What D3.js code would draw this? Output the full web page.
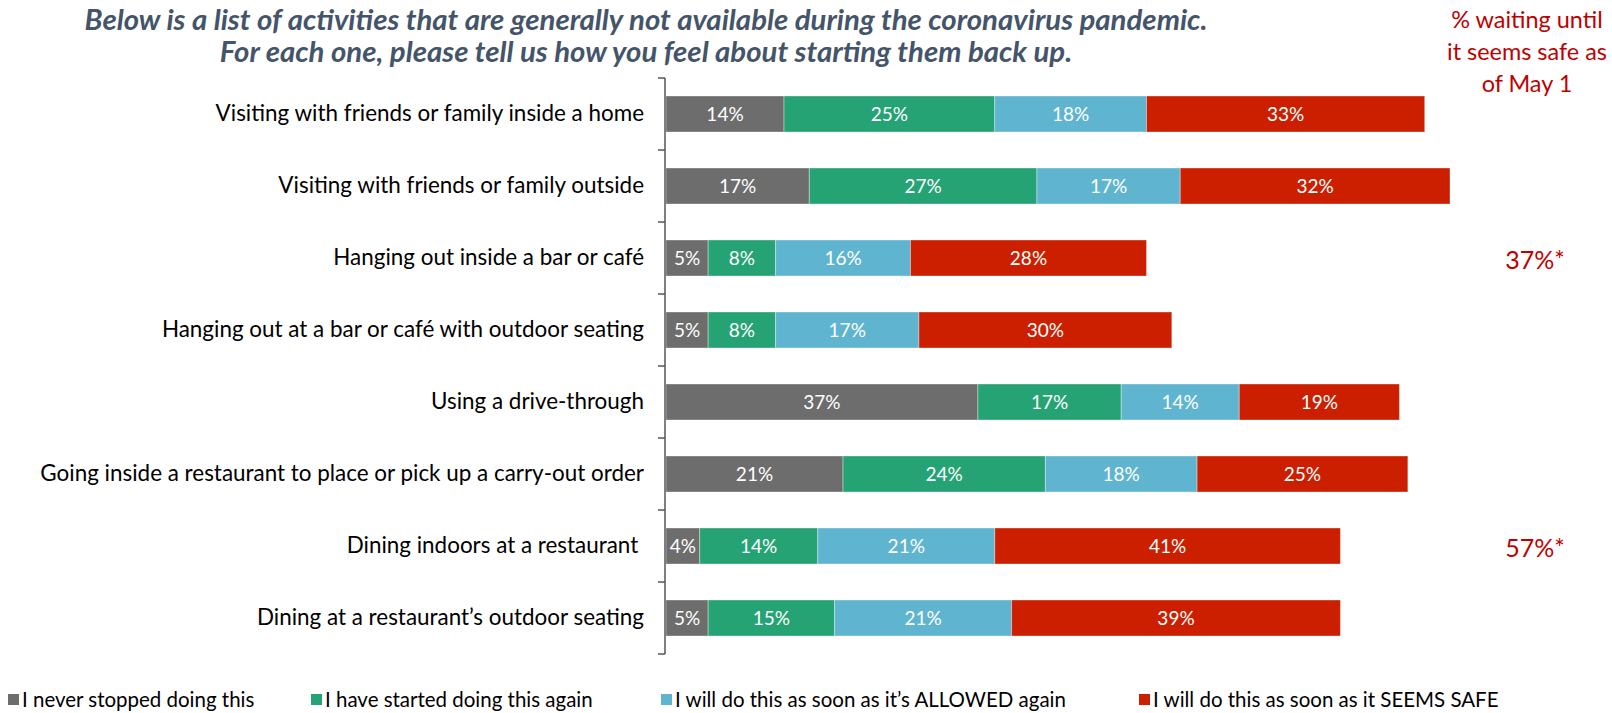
<!DOCTYPE html>
<html>
<head>
<meta charset="utf-8">
<script src="https://cdn.jsdelivr.net/npm/d3@7"></script>
<style>
  body { margin: 0; background: #fff; }
  svg { display: block; }
</style>
</head>
<body>
<svg id="chart" width="1612" height="713"></svg>
<script>
// Activities, top to bottom
const categories = [
  "Visiting with friends or family inside a home",
  "Visiting with friends or family outside",
  "Hanging out inside a bar or café",
  "Hanging out at a bar or café with outdoor seating",
  "Using a drive-through",
  "Going inside a restaurant to place or pick up a carry-out order",
  "Dining indoors at a restaurant\u00a0",
  "Dining at a restaurant’s outdoor seating"
];

// Response series (legend order)
const seriesNames = [
  "I never stopped doing this",
  "I have started doing this again",
  "I will do this as soon as it’s ALLOWED again",
  "I will do this as soon as it SEEMS SAFE"
];

// Percent of respondents per activity
const neverStopped = [14, 17, 5, 5, 37, 21, 4, 5];
const startedAgain = [25, 27, 8, 8, 17, 24, 14, 15];
const whenAllowed  = [18, 17, 16, 17, 14, 18, 21, 21];
const whenSafe     = [33, 32, 28, 30, 19, 25, 41, 39];

// "% waiting until it seems safe as of May 1" (only asked for some activities)
const safeAsOfMay1 = [null, null, 37, null, null, null, 57, null];

const titleLines = [
  "Below is a list of activities that are generally not available during the coronavirus pandemic.",
  "For each one, please tell us how you feel about starting them back up."
];
const sideNote = ["% waiting until", "it seems safe as", "of May 1"];

const colors = ["#6d6d6d", "#26a375", "#5fb5d0", "#cc1f00"];

const svg = d3.select("#chart");
const FONT = "Lato, 'Open Sans', sans-serif";

// Build rows for stacking
const keys = ["never", "started", "allowed", "safe"];
const rows = categories.map((c, i) => ({
  cat: c,
  never: neverStopped[i],
  started: startedAgain[i],
  allowed: whenAllowed[i],
  safe: whenSafe[i]
}));
const stacked = d3.stack().keys(keys)(rows);

const x = d3.scaleLinear().domain([0, 100]).range([666, 1509]);
const y = d3.scaleBand().domain(categories).range([78, 654])
  .paddingInner(0.5).paddingOuter(0.25);

// Fit a font size so that the widest text in a selection spans a given width
function fitFont(sel, target, start) {
  sel.style("font-size", start + "px");
  let w = 0;
  sel.each(function () { w = Math.max(w, this.getComputedTextLength()); });
  const size = start * target / w;
  sel.style("font-size", size + "px");
  return size;
}

// Title
const title = svg.append("g").selectAll("text").data(titleLines).join("text")
  .attr("x", 646)
  .attr("y", (d, i) => 30 + i * 32)
  .attr("text-anchor", "middle")
  .style("font-family", FONT)
  .style("font-weight", 700)
  .style("font-style", "italic")
  .attr("fill", "#44546a")
  .text(d => d);
fitFont(title, 1123, 24);

// Side note header
const note = svg.append("g").selectAll("text").data(sideNote).join("text")
  .attr("x", 1527)
  .attr("y", (d, i) => 28 + i * 32)
  .attr("text-anchor", "middle")
  .style("font-family", FONT)
  .attr("fill", "#c00000")
  .text(d => d);
fitFont(note, 160, 20);

// Stacked bars
const layer = svg.append("g").selectAll("g").data(stacked).join("g")
  .attr("fill", (d, i) => colors[i]);

layer.selectAll("rect").data(d => d).join("rect")
  .attr("x", d => x(d[0]))
  .attr("y", d => y(d.data.cat))
  .attr("width", d => x(d[1]) - x(d[0]))
  .attr("height", y.bandwidth())
  .attr("stroke", "#ffffff")
  .attr("stroke-opacity", 0.35)
  .attr("stroke-width", 1);

// Value labels
layer.selectAll("text").data(d => d).join("text")
  .attr("x", d => (x(d[0]) + x(d[1])) / 2)
  .attr("y", d => y(d.data.cat) + y.bandwidth() / 2 + 7)
  .attr("text-anchor", "middle")
  .attr("fill", "#ffffff")
  .style("font-family", FONT)
  .style("font-size", "19px")
  .text(d => (d[1] - d[0]) + "%");

// Category axis
const axis = svg.append("g")
  .attr("transform", "translate(665,0)")
  .call(d3.axisLeft(y).tickSize(0).tickPadding(21));
axis.select(".domain").remove();
const catLabels = axis.selectAll(".tick text")
  .attr("dy", null)
  .attr("y", 7)
  .attr("fill", "#000")
  .style("font-family", FONT);
fitFont(catLabels, 604, 20);

// Axis line and band boundary ticks
const boundaries = categories.map(c => y(c) - y.step() * y.paddingInner() / 2);
boundaries.push(654);
svg.append("line")
  .attr("x1", 665).attr("x2", 665)
  .attr("y1", 78).attr("y2", 654)
  .attr("stroke", "#555").attr("stroke-width", 1.5);
svg.append("g").selectAll("line").data(boundaries).join("line")
  .attr("x1", 658).attr("x2", 665)
  .attr("y1", d => d).attr("y2", d => d)
  .attr("stroke", "#555").attr("stroke-width", 1.5);

// Safe-as-of-May-1 figures
svg.append("g").selectAll("text")
  .data(categories.map((c, i) => ({ c, v: safeAsOfMay1[i] })).filter(d => d.v != null))
  .join("text")
  .attr("x", 1535)
  .attr("y", d => y(d.c) + y.bandwidth() / 2 + 11)
  .attr("text-anchor", "middle")
  .style("font-family", "Lato, sans-serif")
  .style("font-size", "25px")
  .attr("fill", "#c00000")
  .text(d => d.v + "%*");

// Legend
const legendX = [8, 311, 661, 1139];
const leg = svg.append("g").selectAll("g").data(seriesNames).join("g")
  .attr("transform", (d, i) => `translate(${legendX[i]},0)`);
leg.append("rect")
  .attr("x", 0).attr("y", 694)
  .attr("width", 11).attr("height", 11)
  .attr("fill", (d, i) => colors[i]);
const legText = leg.append("text")
  .attr("x", 14).attr("y", 707)
  .style("font-family", FONT)
  .attr("fill", "#000")
  .text(d => d);
fitFont(legText, 391, 21);
</script>
</body>
</html>
